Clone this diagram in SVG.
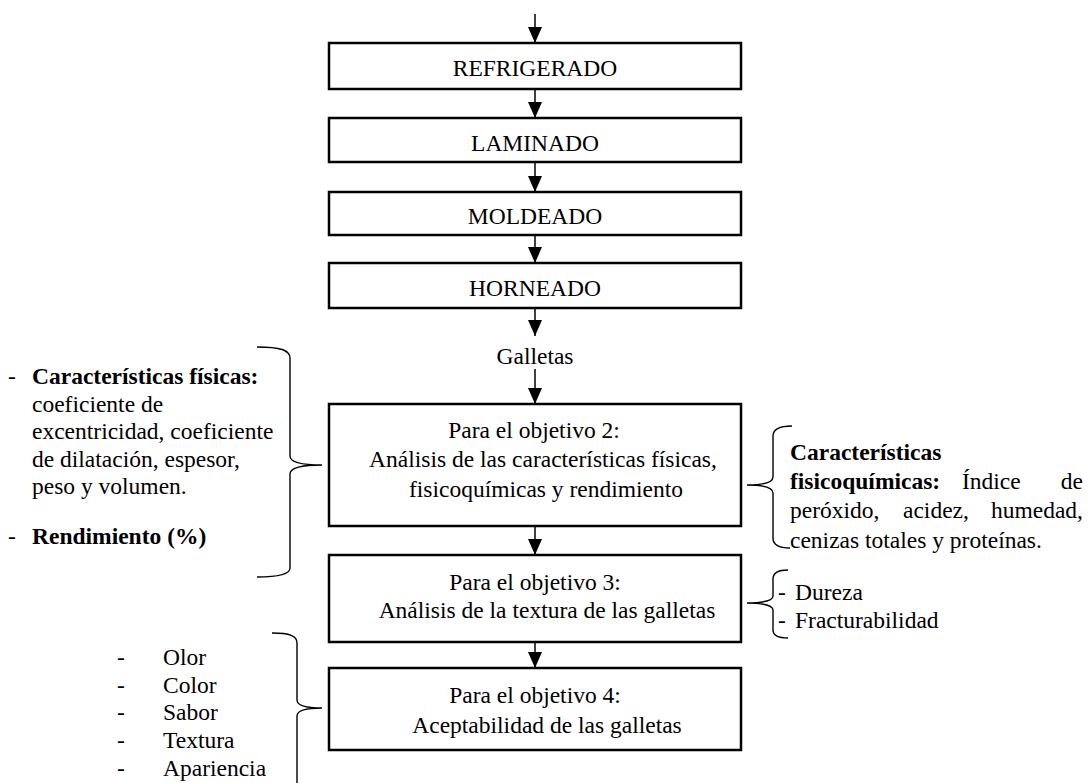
<svg xmlns="http://www.w3.org/2000/svg" width="1089" height="783" viewBox="0 0 1089 783">
  <style>
    .box { fill: #fff; stroke: #000; stroke-width: 2.5; }
    .t { font-family: "Liberation Serif", "Times New Roman", serif; font-size: 23.5px; fill: #000; }
    .c { text-anchor: middle; }
    .e { text-anchor: end; }
    .b { font-weight: bold; }
    .brace { fill: none; stroke: #000; stroke-width: 1.4; }
    .conn { stroke: #000; stroke-width: 1.5; fill: none; marker-end: url(#head); }
  </style>
  <defs>
    <!-- filled triangular arrowhead, tip at the end of the line -->
    <marker id="head" markerWidth="16" markerHeight="14" refX="16" refY="7" orient="auto" markerUnits="userSpaceOnUse" viewBox="0 0 16 14">
      <path d="M0,0 L16,7 L0,14 Z" fill="#000"/>
    </marker>
  </defs>
  <rect width="1089" height="783" fill="#fff"/>

  <!-- process flow connectors -->
  <g id="connectors">
    <line class="conn" x1="535" y1="14" x2="535" y2="43"/>
    <line class="conn" x1="535" y1="89" x2="535" y2="118"/>
    <line class="conn" x1="535" y1="162" x2="535" y2="192"/>
    <line class="conn" x1="535" y1="235" x2="535" y2="263"/>
    <line class="conn" x1="535" y1="308" x2="535" y2="336"/>
    <line class="conn" x1="535" y1="369" x2="535" y2="404"/>
    <line class="conn" x1="535" y1="526" x2="535" y2="555"/>
    <line class="conn" x1="535" y1="642" x2="535" y2="668"/>
  </g>

  <g id="refrigerado">
    <rect class="box" x="329" y="43" width="412" height="46"/>
    <text class="t c" x="535" y="76">REFRIGERADO</text>
  </g>
  <g id="laminado">
    <rect class="box" x="329" y="118" width="412" height="44"/>
    <text class="t c" x="535" y="151">LAMINADO</text>
  </g>
  <g id="moldeado">
    <rect class="box" x="329" y="192" width="412" height="43"/>
    <text class="t c" x="535" y="224">MOLDEADO</text>
  </g>
  <g id="horneado">
    <rect class="box" x="329" y="263" width="412" height="45"/>
    <text class="t c" x="535" y="296">HORNEADO</text>
  </g>

  <g id="galletas">
    <text class="t c" x="535" y="364">Galletas</text>
  </g>

  <g id="objetivo2">
    <rect class="box" x="329" y="404" width="412" height="122"/>
    <text class="t c" x="534" y="438">Para el objetivo 2:</text>
    <text class="t c" x="543" y="467">Análisis de las características físicas,</text>
    <text class="t c" x="546" y="497">fisicoquímicas y rendimiento</text>
  </g>
  <g id="objetivo3">
    <rect class="box" x="329" y="555" width="412" height="87"/>
    <text class="t c" x="535" y="590">Para el objetivo 3:</text>
    <text class="t c" x="547" y="618">Análisis de la textura de las galletas</text>
  </g>
  <g id="objetivo4">
    <rect class="box" x="329" y="668" width="412" height="82"/>
    <text class="t c" x="535" y="703">Para el objetivo 4:</text>
    <text class="t c" x="547" y="733">Aceptabilidad de las galletas</text>
  </g>

  <!-- physical characteristics note -->
  <g id="nota-fisicas">
    <path class="brace" d="M257,347 C280,347 290,350 290,358 V456 C290,462 300,465 322,465 C300,465 290,468 290,474 V568 C290,574 280,577 257,577"/>
    <text class="t" x="8" y="384">-</text>
    <text class="t b" x="32" y="384">Características físicas:</text>
    <text class="t" x="32" y="411.5">coeficiente de</text>
    <text class="t" x="32" y="439">excentricidad, coeficiente</text>
    <text class="t" x="32" y="466.5">de dilatación, espesor,</text>
    <text class="t" x="32" y="494">peso y volumen.</text>
    <text class="t" x="8" y="544">-</text>
    <text class="t b" x="32" y="544">Rendimiento (%)</text>
  </g>

  <!-- physicochemical note -->
  <g id="nota-fisicoquimicas">
    <path class="brace" d="M792,426 C780,426 773,429 773,436 V477 C773,482 765,485 747,485 C765,485 773,488 773,493 V538 C773,545 780,548 790,548"/>
    <text class="t b" x="790" y="460">Características</text>
    <text class="t b" x="790" y="489">fisicoquímicas:</text>
    <text class="t" x="962" y="489">Índice</text>
    <text class="t e" x="1083" y="489">de</text>
    <text class="t" x="790" y="518">peróxido,</text>
    <text class="t" x="903" y="518">acidez,</text>
    <text class="t e" x="1083" y="518">humedad,</text>
    <text class="t" x="790" y="548">cenizas totales y proteínas.</text>
  </g>

  <!-- texture note -->
  <g id="nota-textura">
    <path class="brace" d="M788,570 C778,570 773,573 773,579 V596 C773,600 765,603 747,603 C765,603 773,606 773,610 V630 C773,635 778,638 788,638"/>
    <text class="t" x="778" y="600">-</text>
    <text class="t" x="795" y="600">Dureza</text>
    <text class="t" x="778" y="628">-</text>
    <text class="t" x="795" y="628">Fracturabilidad</text>
  </g>

  <!-- sensory note -->
  <g id="nota-sensorial">
    <path class="brace" d="M272,633 C290,633 297,636 297,643 V700 C297,705 305,708 322,708 C305,708 297,711 297,716 V790"/>
    <text class="t" x="117" y="665">-</text>
    <text class="t" x="163" y="665">Olor</text>
    <text class="t" x="117" y="693">-</text>
    <text class="t" x="163" y="693">Color</text>
    <text class="t" x="117" y="720">-</text>
    <text class="t" x="163" y="720">Sabor</text>
    <text class="t" x="117" y="748">-</text>
    <text class="t" x="163" y="748">Textura</text>
    <text class="t" x="117" y="776">-</text>
    <text class="t" x="163" y="776">Apariencia</text>
  </g>
</svg>
